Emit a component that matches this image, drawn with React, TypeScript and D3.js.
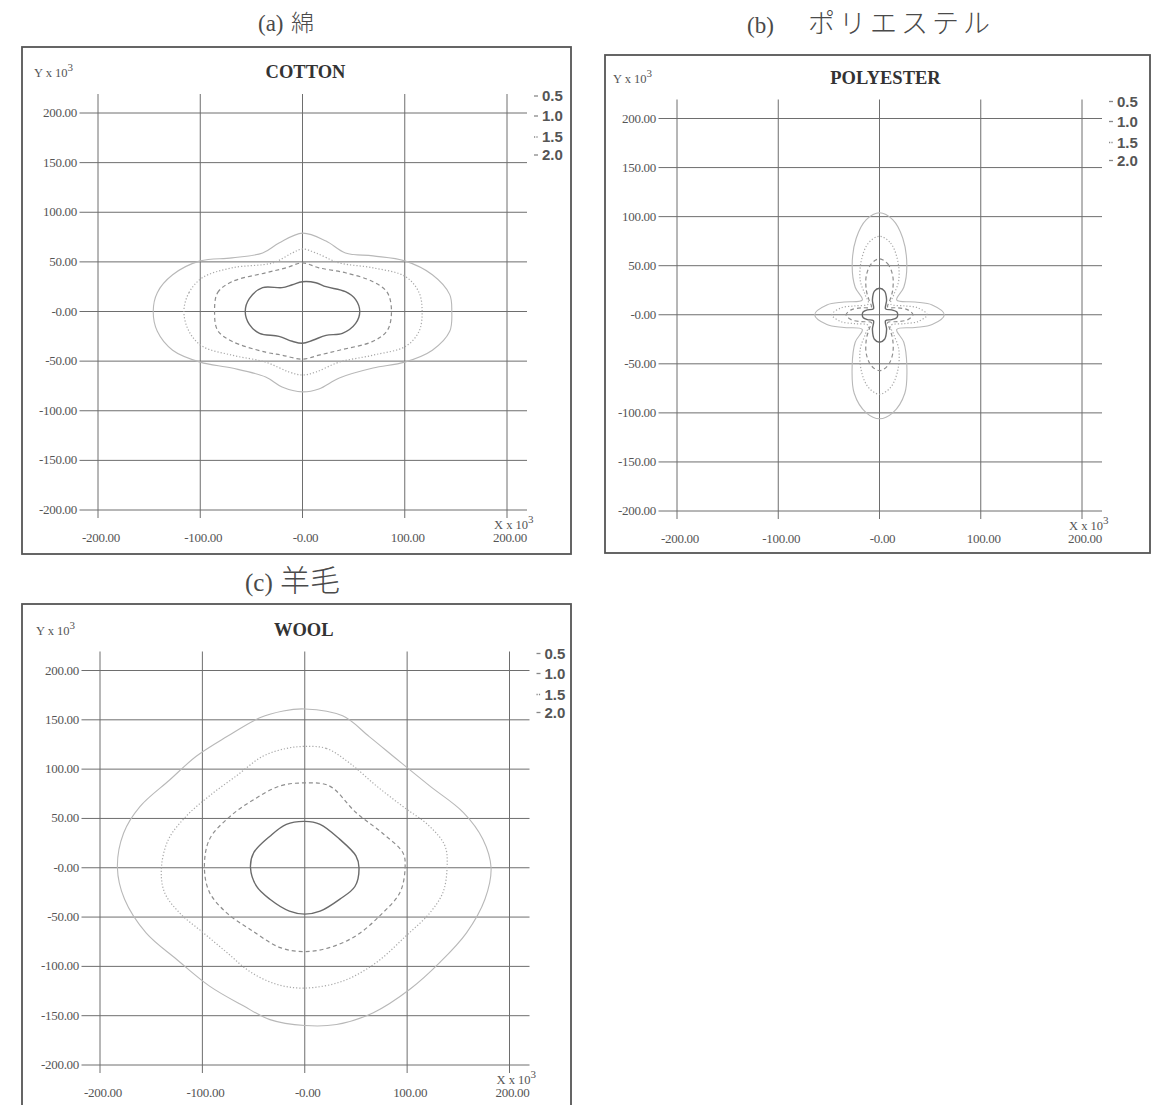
import React from 'react';
import * as d3 from 'd3';

type Pt = [number, number];

// ---------- data ----------
const gridValues = [-200, -150, -100, -50, 0, 50, 100, 150, 200];
const xTickValues = [-200, -100, 0, 100, 200];
const xTickLabels = ['-200.00', '-100.00', '-0.00', '100.00', '200.00'];
const yTickValues = [200, 150, 100, 50, 0, -50, -100, -150, -200];
const yTickLabels = ['200.00', '150.00', '100.00', '50.00', '-0.00', '-50.00', '-100.00', '-150.00', '-200.00'];
const levelLabels = ['0.5', '1.0', '1.5', '2.0'];

const cotton05: Pt[] = [[-146,0],[-142,19],[-127,37],[-100,51],[-69,54],[-39,59],[-23,69],[0,79],[23,71],[42,59],[69,56],[100,51],[127,37],[144,17],[146,0],[144,-20],[127,-39],[100,-51],[69,-57],[36,-67],[16,-78],[0,-81],[-20,-76],[-36,-66],[-69,-57],[-100,-51],[-127,-39],[-142,-20]];
const cotton10: Pt[] = [[-116,0],[-111,19],[-98,34],[-69,44],[-29,49],[-10,59],[0,63],[13,59],[36,49],[69,44],[101,35],[114,19],[117,0],[114,-20],[101,-35],[69,-44],[36,-51],[13,-61],[0,-64],[-13,-61],[-36,-51],[-69,-44],[-98,-35],[-111,-20]];
const cotton15: Pt[] = [[-86,0],[-83,19],[-69,30],[-36,39],[-16,44],[0,49],[16,44],[42,39],[69,30],[83,19],[87,0],[83,-19],[69,-30],[36,-39],[16,-44],[0,-48],[-20,-44],[-36,-41],[-69,-30],[-83,-19]];
const cotton20: Pt[] = [[-56,0],[-52,13],[-39,24],[-20,24],[-10,27],[0,30],[13,29],[23,25],[42,20],[52,12],[56,0],[52,-12],[39,-22],[23,-24],[10,-29],[0,-32],[-10,-30],[-23,-25],[-42,-22],[-52,-13]];

const poly05: Pt[] = [[0,104],[13,97],[23,78],[27,50],[24,28],[17,15],[35,13],[52,10],[64,0],[52,-10],[35,-13],[17,-15],[24,-28],[27,-52],[25,-80],[13,-100],[0,-106],[-13,-100],[-25,-80],[-27,-52],[-24,-28],[-17,-15],[-35,-13],[-52,-10],[-64,0],[-52,10],[-35,13],[-17,15],[-24,28],[-27,50],[-23,78],[-13,97]];
const poly10: Pt[] = [[0,80],[11,73],[18,55],[19,35],[14,20],[11,11],[25,9],[38,7],[47,0],[38,-7],[25,-9],[11,-11],[14,-20],[19,-35],[18,-57],[11,-74],[0,-81],[-11,-74],[-18,-57],[-19,-35],[-14,-20],[-11,-11],[-25,-9],[-38,-7],[-47,0],[-38,7],[-25,9],[-11,11],[-14,20],[-19,35],[-18,55],[-11,73]];
const poly15: Pt[] = [[0,57],[8,52],[13,40],[13,25],[10,14],[8,8],[18,7],[28,5],[33,0],[28,-5],[18,-7],[8,-8],[10,-14],[13,-25],[13,-40],[8,-52],[0,-57],[-8,-52],[-13,-40],[-13,-25],[-10,-14],[-8,-8],[-18,-7],[-28,-5],[-33,0],[-28,5],[-18,7],[-8,8],[-10,14],[-13,25],[-13,40],[-8,52]];
const poly20: Pt[] = [[0,27],[5,24],[7,15],[6,6],[12,5],[17,3],[18,0],[17,-3],[12,-5],[6,-6],[7,-15],[5,-25],[0,-28],[-5,-25],[-7,-15],[-6,-6],[-12,-5],[-16,-3],[-17,0],[-16,3],[-12,5],[-6,6],[-7,15],[-5,24]];

const wool05: Pt[] = [[0,161],[37,154],[63,133],[90,110],[122,83],[155,56],[174,29],[182,0],[176,-32],[158,-66],[132,-96],[103,-123],[67,-147],[31,-159],[0,-160],[-34,-154],[-60,-140],[-93,-120],[-125,-93],[-155,-66],[-176,-32],[-183,0],[-177,35],[-161,62],[-132,89],[-106,113],[-76,133],[-44,152],[-21,159]];
const wool10: Pt[] = [[0,123],[21,121],[44,106],[70,83],[96,62],[122,42],[137,22],[139,0],[135,-25],[122,-46],[99,-69],[70,-96],[37,-115],[0,-122],[-28,-118],[-54,-105],[-76,-86],[-99,-66],[-122,-46],[-137,-25],[-140,0],[-133,29],[-116,52],[-93,73],[-67,93],[-41,113],[-18,121]];
const wool15: Pt[] = [[0,86],[24,83],[50,56],[76,35],[96,15],[98,0],[93,-25],[73,-49],[50,-69],[24,-81],[0,-85],[-24,-81],[-54,-62],[-76,-46],[-93,-25],[-98,0],[-93,29],[-73,52],[-50,69],[-24,83]];
const wool20: Pt[] = [[0,47],[15,44],[34,29],[50,12],[53,0],[49,-19],[34,-32],[15,-44],[0,-47],[-15,-44],[-34,-32],[-47,-19],[-53,0],[-50,15],[-34,32],[-18,44]];

// ---------- layout / styles ----------
const levelStyles = [
  { stroke: '#b8b8b8', width: 1.1, dash: '' },
  { stroke: '#a8a8a8', width: 1.2, dash: '1.2 2' },
  { stroke: '#8e8e8e', width: 1.2, dash: '4 3' },
  { stroke: '#6a6a6a', width: 1.4, dash: '' },
];

const panels = [
  {
    key: 'a', prefix: '(a)', cjk: '綿', name: 'COTTON',
    frame: { x: 22, y: 47, w: 549, h: 507 },
    xr: [98, 507], yr: [113, 510], nameDx: 3,
    title: { px: 258, cx: 291, y: 31, size: 23, cjkSize: 23, cjkLen: 0 },
    curves: [cotton05, cotton10, cotton15, cotton20],
  },
  {
    key: 'b', prefix: '(b)', cjk: 'ポリエステル', name: 'POLYESTER',
    frame: { x: 605, y: 55, w: 545, h: 498 },
    xr: [677, 1082], yr: [118.5, 511], nameDx: 6,
    title: { px: 747, cx: 808, y: 33, size: 23, cjkSize: 27, cjkLen: 182 },
    curves: [poly05, poly10, poly15, poly20],
  },
  {
    key: 'c', prefix: '(c)', cjk: '羊毛', name: 'WOOL',
    frame: { x: 22, y: 604, w: 549, h: 520 },
    xr: [100, 509.5], yr: [670.5, 1065], nameDx: -1,
    title: { px: 245, cx: 280, y: 591, size: 25, cjkSize: 30, cjkLen: 0 },
    curves: [wool05, wool10, wool15, wool20],
  },
];

const serif = '"Liberation Serif", "DejaVu Serif", serif';
const cjkFont = '"Noto Sans CJK JP", "Noto Sans CJK SC", sans-serif';
const sans = '"Liberation Sans", Arial, sans-serif';

function Panel({ p }: { p: typeof panels[number] }) {
  const xs = d3.scaleLinear().domain([-200, 200]).range(p.xr as [number, number]);
  const ys = d3.scaleLinear().domain([200, -200]).range(p.yr as [number, number]);
  const line = d3.line<Pt>().x((d) => xs(d[0])).y((d) => ys(d[1])).curve(d3.curveCatmullRomClosed.alpha(0.5));
  const gx0 = xs(-200) - 18.5, gx1 = xs(200) + 20;
  const gy0 = ys(200) - 19, gy1 = ys(-200) + 8;
  const lx = xs(200) + 35;
  return (
    <g>
      <text x={p.title.px} y={p.title.y} fontFamily={serif} fontSize={p.title.size} fill="#4a4a4a">{p.prefix}</text>
      <text x={p.title.cx} y={p.title.y} fontFamily={cjkFont} fontWeight={300} fontSize={p.title.cjkSize} fill="#4a4a4a"
        {...(p.title.cjkLen ? { textLength: p.title.cjkLen, lengthAdjust: 'spacing' } : {})}>{p.cjk}</text>
      <rect x={p.frame.x} y={p.frame.y} width={p.frame.w} height={p.frame.h} fill="#ffffff" stroke="#555" strokeWidth={1.8} />
      {gridValues.map((v) => (
        <line key={'h' + v} x1={gx0} x2={gx1} y1={ys(v)} y2={ys(v)} stroke="#6e6e6e" strokeWidth={1} />
      ))}
      {xTickValues.map((v) => (
        <line key={'v' + v} x1={xs(v)} x2={xs(v)} y1={gy0} y2={gy1} stroke="#6e6e6e" strokeWidth={1} />
      ))}
      {yTickValues.map((v, i) => (
        <text key={'yl' + v} x={xs(-200) - 21} y={ys(v) + 4} textAnchor="end" fontFamily={serif} fontSize={13} fill="#555" letterSpacing={-0.3}>{yTickLabels[i]}</text>
      ))}
      {xTickValues.map((v, i) => (
        <text key={'xl' + v} x={xs(v) + 3} y={ys(-200) + 32} textAnchor="middle" fontFamily={serif} fontSize={13} fill="#555" letterSpacing={-0.3}>{xTickLabels[i]}</text>
      ))}
      <text x={xs(-200) - 64} y={ys(200) - 36} fontFamily={serif} fontSize={12.5} fill="#555">
        Y x 10<tspan dy={-6} fontSize={11}>3</tspan>
      </text>
      <text x={xs(200) - 13} y={ys(-200) + 19} fontFamily={serif} fontSize={12.5} fill="#555">
        X x 10<tspan dy={-6} fontSize={11}>3</tspan>
      </text>
      <text x={xs(0) + p.nameDx} y={ys(200) - 35} textAnchor="middle" fontFamily={serif} fontWeight="bold" fontSize={18.5} fill="#333">{p.name}</text>
      {levelLabels.map((lab, i) => {
        const yy = ys(200) + [-12, 8, 29, 47][i];
        return (
          <g key={'lg' + lab}>
            <line x1={lx - 8} x2={lx - 4} y1={yy - 5} y2={yy - 5} stroke="#888" strokeWidth={1.3} strokeDasharray={i === 2 ? '1.2 1.2' : ''} />
            <text x={lx} y={yy} fontFamily={sans} fontWeight="bold" fontSize={15} fill="#555">{lab}</text>
          </g>
        );
      })}
      {p.curves.map((c, i) => (
        <path key={'c' + i} d={line(c) || ''} fill="none" stroke={levelStyles[i].stroke} strokeWidth={levelStyles[i].width} strokeDasharray={levelStyles[i].dash} />
      ))}
    </g>
  );
}

export default function App() {
  return (
    <svg width={1163} height={1105} style={{ position: 'absolute', left: 0, top: 0, background: '#fff' }}>
      <rect x={0} y={0} width={1163} height={1105} fill="#ffffff" />
      {panels.map((p) => <Panel key={p.key} p={p} />)}
    </svg>
  );
}
